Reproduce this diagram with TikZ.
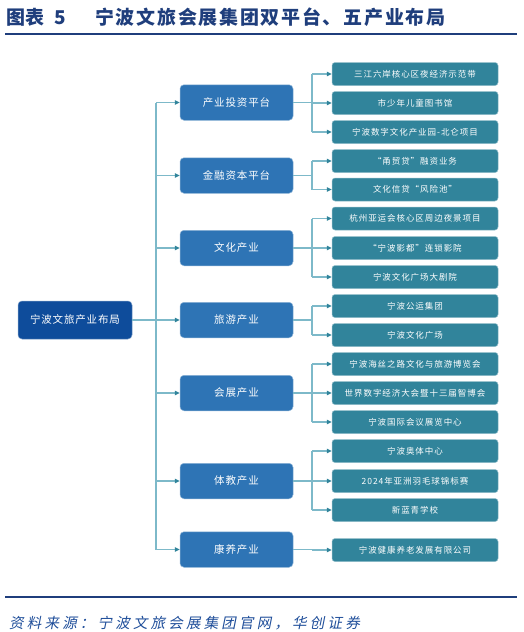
\documentclass[tikz,border=0pt]{standalone}
\usepackage{fontspec}
\setmainfont{Noto Sans CJK SC}
\newfontfamily\srcfont[FakeSlant=0.2]{Noto Sans CJK SC}
\usetikzlibrary{arrows.meta}
\definecolor{titleblue}{HTML}{1F3E7C}
\definecolor{rootblue}{HTML}{0E4C9B}
\definecolor{midblue}{HTML}{2E74B5}
\definecolor{leafteal}{HTML}{31849B}
\definecolor{linkcol}{HTML}{7DB9C9}
\definecolor{tipcol}{HTML}{31849B}
\definecolor{srcblue}{HTML}{1F4E9A}
\begin{document}
\begin{tikzpicture}[x=1pt, y=-1pt,
    rootbox/.style={rounded corners=4pt, fill=rootblue, draw=rootblue!55!white, line width=0.5pt,
        minimum width=114, minimum height=38, text=white,
        font=\fontsize{10.5}{12}\selectfont\addfontfeatures{LetterSpace=8}},
    midbox/.style={rounded corners=4pt, fill=midblue, draw=midblue!55!white, line width=0.5pt,
        minimum width=113, minimum height=35.5, text=white,
        font=\fontsize{10.5}{12}\selectfont\addfontfeatures{LetterSpace=8}},
    leafbox/.style={rounded corners=3pt, fill=leafteal, draw=leafteal!55!white, line width=0.5pt,
        minimum width=166, minimum height=23, text=white,
        font=\fontsize{8.5}{10}\selectfont\addfontfeatures{LetterSpace=11}},
    link/.style={draw=linkcol, line width=1.2pt},
    arr/.style={link, -{Triangle[length=5pt, width=4.5pt, color=tipcol]}}]
    \useasboundingbox (0,0) rectangle (524,632);

    % --- Titulo y reglas ---
    \node[anchor=west, inner sep=0, text=titleblue, font=\fontsize{19}{21}\selectfont\bfseries] (tnum) at (6,17) {图表\hspace{10pt}5};
    \node[anchor=west, inner sep=0, text=titleblue, font=\fontsize{19}{21}\selectfont\bfseries\addfontfeatures{LetterSpace=9}] (ttext) at (95,17) {宁波文旅会展集团双平台、五产业布局};
    \draw[titleblue, line width=1.5pt] (5,34) -- (517,34);
    \draw[titleblue, line width=1.5pt] (5,597) -- (517,597);
    \node[anchor=west, inner sep=0, text=srcblue, font=\fontsize{14.5}{16}\srcfont\addfontfeatures{LetterSpace=22}] (src) at (9,623) {资料来源：宁波文旅会展集团官网，华创证券};

    % --- Nodo raiz ---
    \node[rootbox] (root) at (75,320) {宁波文旅产业布局};

    % --- Plataformas e industrias ---
    \foreach \n/\y/\t in {m1/102.5/产业投资平台, m2/175.5/金融资本平台, m3/248/文化产业,
        m4/320/旅游产业, m5/393/会展产业, m6/481/体教产业, m7/549.5/康养产业}
        \node[midbox] (\n) at (236.5,\y) {\t};

    % --- Proyectos ---
    \foreach \n/\y/\t in {r1/74/三江六岸核心区夜经济示范带, r2/103/市少年儿童图书馆,
        r3/132/宁波数字文化产业园-北仑项目, r4/161/“甬贸贷”融资业务,
        r5/189.5/文化信贷“风险池”, r6/218.5/杭州亚运会核心区周边夜景项目,
        r7/248/“宁波影都”连锁影院, r8/277/宁波文化广场大剧院,
        r9/306/宁波公运集团, r10/335/宁波文化广场,
        r11/364/宁波海丝之路文化与旅游博览会, r12/393/世界数字经济大会暨十三届智博会,
        r13/422/宁波国际会议展览中心, r14/451/宁波奥体中心,
        r15/481/2024年亚洲羽毛球锦标赛, r16/510/新蓝青学校,
        r17/550/宁波健康养老发展有限公司}
        \node[leafbox] (\n) at (415,\y) {\t};

    % --- Tronco principal ---
    \coordinate (trunk) at (156,0);
    \coordinate (bx) at (312,0);
    \draw[link] (root.east) -- (trunk |- root.east);
    \draw[link] (trunk |- m1.west) -- (trunk |- m7.west);
    \foreach \i in {1,...,7}
        \draw[arr] (trunk |- m\i.west) -- (m\i.west);

    % --- Ramas hacia los proyectos ---
    \foreach \m/\a/\b in {m1/r1/r3, m2/r4/r5, m3/r6/r8, m4/r9/r10, m5/r11/r13, m6/r14/r16, m7/r17/r17} {
        \draw[link] (\m.east) -- (bx |- \m.east);
        \draw[link] (bx |- \a.west) -- (bx |- \b.west);
    }
    \foreach \i in {1,...,17}
        \draw[arr] (bx |- r\i.west) -- (r\i.west);
\end{tikzpicture}
\end{document}
